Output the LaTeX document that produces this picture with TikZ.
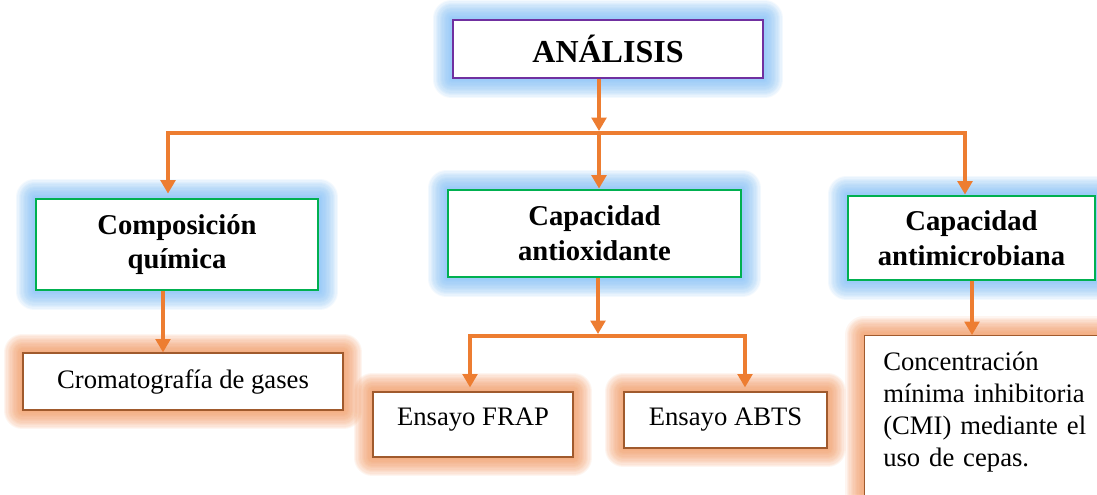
\documentclass[tikz,border=0pt]{standalone}
\usepackage{fontspec}
\setmainfont{Liberation Serif}
\usetikzlibrary{arrows.meta,backgrounds}

\definecolor{arrorange}{RGB}{237,125,49}
\definecolor{boxpurple}{RGB}{112,48,160}
\definecolor{boxgreen}{RGB}{0,176,80}
\definecolor{boxbrown}{RGB}{160,90,45}
\definecolor{glowblue}{RGB}{125,190,248}
\definecolor{gloworange}{RGB}{244,150,90}

\tikzset{every picture/.style={line width=0.75pt}}
\tikzset{
  titlebox/.style={draw=boxpurple, line width=2.2pt, fill=white, inner sep=0pt,
    font=\bfseries\fontsize{24}{29}\selectfont, minimum width=232.5pt, minimum height=43.5pt},
  headbox/.style={draw=boxgreen, line width=2.2pt, fill=white, align=center, inner sep=0pt,
    font=\bfseries\fontsize{21.5}{26}\selectfont},
  methodbox/.style={draw=boxbrown, line width=0.9pt, fill=white, inner sep=0pt,
    font=\fontsize{20}{24}\selectfont},
  link/.style={draw=arrorange, line width=2.3pt, -{Triangle[length=10pt,width=11pt]}},
  bar/.style={draw=arrorange, line width=2.3pt, line cap=rect},
  glowline/.style={line join=round, opacity=0.085, line width=#1}
}

% soft halo behind a box
\newcommand{\haloat}[2]{%
  \begin{pgfonlayer}{background}
    \foreach \g in {1,...,14}
      \draw[#2, glowline=\g*2pt] (#1.south west) rectangle (#1.north east);
  \end{pgfonlayer}}

\begin{document}
\begin{tikzpicture}[x=0.75pt,y=0.75pt,yscale=-1,xscale=1]
	\useasboundingbox (0,0) rectangle (1097,494);
	\begin{pgfonlayer}{background}
	  \fill[white] (0,0) rectangle (1097,494);
	\end{pgfonlayer}

	% Title
	\node[titlebox] (analisis) at (608,49) {ANÁLISIS};

	% Level 1
	\node[headbox, minimum width=211.5pt, minimum height=68.25pt] (quimica) at (177,244.5) {Composición\\química};
	\node[headbox, minimum width=219.75pt, minimum height=65.25pt] (antiox) at (594.5,233.5) {Capacidad\\antioxidante};
	\node[headbox, minimum width=185.25pt, minimum height=63pt] (antimic) at (971.5,238) {Capacidad\\antimicrobiana};

	% Level 2
	\node[methodbox, minimum width=240pt, minimum height=42.75pt] (croma) at (183,381.5) {Cromatografía de gases};
	\node[methodbox, minimum width=150pt, minimum height=48.75pt, text depth=12pt] (frap) at (473,424.5) {Ensayo FRAP};
	\node[methodbox, minimum width=152.25pt, minimum height=42pt] (abts) at (725.5,420) {Ensayo ABTS};
	\node[methodbox, anchor=north west, align=left, text width=165pt, inner xsep=14pt, inner ysep=12pt, text depth=100pt] (cmi) at (864,335) {Concentración\\mínima inhibitoria\\(CMI) mediante el\\uso de cepas.};

	% Halos
	\haloat{analisis}{glowblue}
	\haloat{quimica}{glowblue}
	\haloat{antiox}{glowblue}
	\haloat{antimic}{glowblue}
	\haloat{croma}{gloworange}
	\haloat{frap}{gloworange}
	\haloat{abts}{gloworange}
	\haloat{cmi}{gloworange}

	% Branch points
	\coordinate (hub) at (599,133);
	\coordinate (barL) at (168,133);
	\coordinate (barR) at (965,133);
	\coordinate (qx) at (163,300);
	\coordinate (hub2) at (598,336);
	\coordinate (barL2) at (470,336);
	\coordinate (barR2) at (745,336);
	\coordinate (mx) at (972,300);

	% Connectors
	\draw[link, shorten >=1.5pt] (analisis.south -| hub) -- (hub);
	\draw[bar] (barL) -- (barR);
	\draw[link, shorten >=3pt] (barL) -- (barL |- quimica.north);
	\draw[link] (hub) -- (hub |- antiox.north);
	\draw[link] (barR) -- (barR |- antimic.north);

	\draw[link] (quimica.south -| qx) -- (qx |- croma.north);
	\draw[link, shorten >=1.5pt] (antiox.south -| hub2) -- (hub2);
	\draw[bar] (barL2) -- (barR2);
	\draw[link, shorten >=3pt] (barL2) -- (barL2 |- frap.north);
	\draw[link, shorten >=3pt] (barR2) -- (barR2 |- abts.north);
	\draw[link] (antimic.south -| mx) -- (mx |- cmi.north);

\end{tikzpicture}
\end{document}
